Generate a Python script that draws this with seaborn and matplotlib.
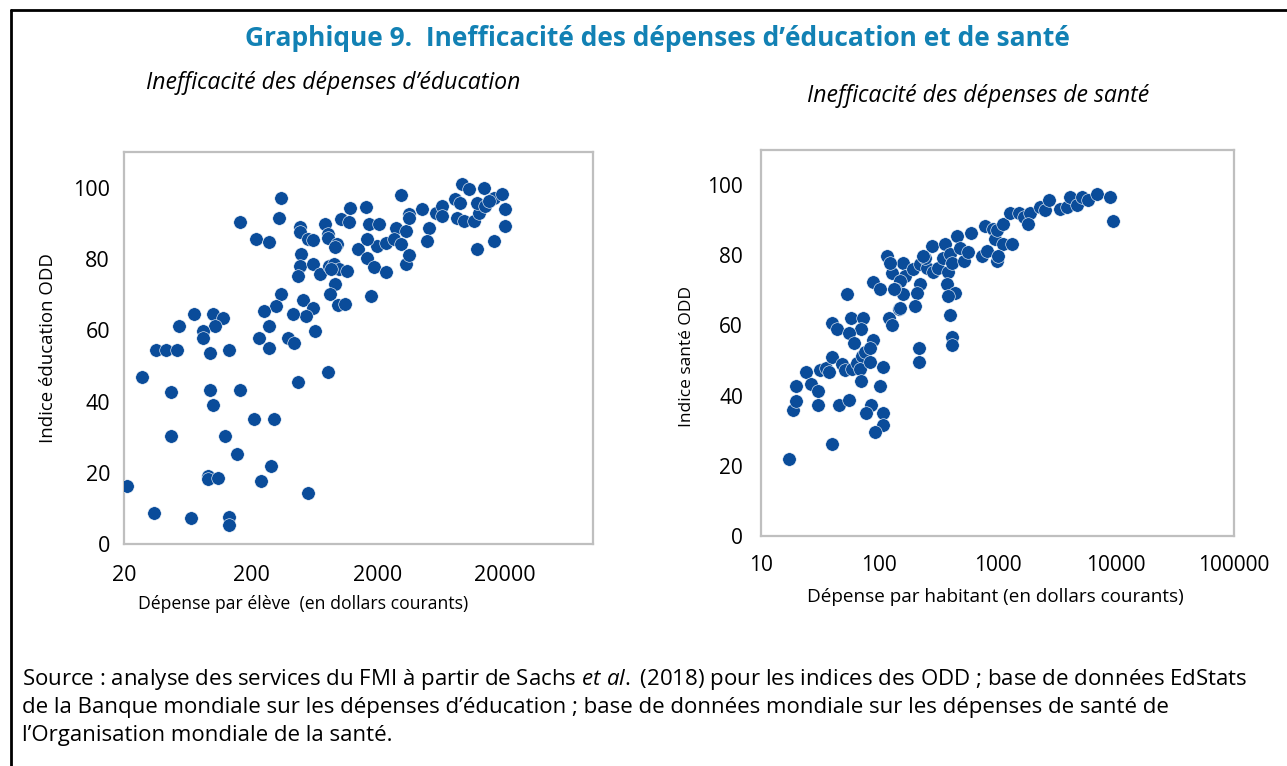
import numpy as np
import pandas as pd
import matplotlib
matplotlib.use("Agg")
import matplotlib.pyplot as plt
import seaborn as sns
from matplotlib.ticker import FixedLocator, FixedFormatter, NullLocator
from matplotlib.lines import Line2D

# ==========================================
# 1. DONNÉES
# ==========================================
edu_depense = [345, 1200, 163, 330, 486, 486, 768, 802, 802, 1031, 1186, 219, 276, 558, 618,
               946, 915, 1403, 496, 489, 611, 472, 698, 826, 904, 988, 1148, 851, 915, 836,
               960, 1096, 345, 315, 252, 517, 618, 542, 431, 276, 233, 276, 394, 434, 641,
               71, 100, 120, 104, 54, 84, 84, 96, 135, 36, 43, 52, 27.7, 47.3, 96,
               100, 163, 472, 802, 210, 302, 47.3, 124, 156, 288, 91, 92, 110, 240, 21.2,
               558, 34.6, 67, 135, 135,
               1620, 1700, 1977, 1634, 1634, 1860, 3300, 2323, 1774,
               3014, 2036, 2755, 3300, 3500, 3500, 2297, 2667, 3014, 3500, 4448, 5024, 4875,
               5672, 6383, 6383, 8128, 8375, 9170, 10350, 13560, 9460, 11320, 12390, 12030,
               13990, 16260, 18880, 20090, 20090, 16260, 12030, 8910, 14850]
edu_indice = [97.2, 94.4, 90.3, 91.6, 89.0, 87.5, 89.7, 86.9, 85.9, 91.1, 90.3, 85.5, 84.8, 85.5, 85.3,
              84.1, 83.3, 82.7, 81.3, 78.0, 78.5, 75.2, 75.9, 78.0, 78.5, 77.1, 76.6, 77.1, 73.1, 70.3,
              67.0, 67.5, 70.3, 66.8, 65.5, 68.4, 66.3, 64.1, 64.7, 61.3, 57.9, 55.1, 58.0, 56.5, 59.9,
              64.7, 64.7, 63.4, 61.3, 61.3, 59.9, 57.9, 53.8, 54.4, 54.4, 54.4, 54.4, 46.9, 42.7, 43.4,
              39.2, 43.4, 45.5, 48.2, 35.1, 35.1, 30.3, 30.3, 25.4, 22.1, 19.2, 18.3, 18.6, 17.8, 16.5,
              14.5, 8.9, 7.5, 7.6, 5.5,
              94.5, 89.7, 83.6, 85.5, 80.3, 77.8, 78.5, 76.4, 69.6,
              97.9, 89.7, 88.8, 87.8, 92.5, 91.6, 84.5, 85.5, 84.1, 81.0, 93.9, 88.8, 85.0,
              93.0, 94.8, 92.0, 96.7, 91.6, 100.9, 99.5, 100.0, 90.6, 90.6, 93.0, 95.8,
              94.8, 97.2, 98.1, 93.9, 89.2, 85.0, 82.7, 95.8, 96.2]

sante_depense = [17.3, 39.6, 18.8, 19.8, 19.8, 23.9, 26.3, 30.2, 30.2, 31.6, 35.5, 37.8, 39.6, 39.6, 43.6,
                 45.9, 55.5, 48.2, 51.4, 58.5, 64.5, 71.1, 75.9, 68.8, 83.6, 53.1, 57.7, 73.4, 69.7, 55.5,
                 61.2, 88.1, 83.6, 69.7, 107, 101.6, 84.7, 76.9, 107, 107, 92.7, 88.1, 101.6,
                 217, 217, 410, 410, 121.7, 129, 148,
                 115.7, 127, 160, 165, 150, 136, 194, 222, 253, 278, 244, 286, 314, 345, 360,
                 397, 385, 410, 452, 484, 516, 568, 592, 735, 809, 983, 785, 921, 950, 372,
                 438, 385, 222, 207, 160, 132, 201, 150, 397, 123, 236,
                 986, 1122, 1279, 1506, 1660, 1888, 1828, 2291, 2535, 2710, 3388, 3864, 4111, 4688,
                 5164, 5875, 6918, 8974, 9572, 1122, 1321, 1018]
sante_indice = [22.0, 26.2, 35.8, 38.6, 42.7, 46.8, 43.4, 41.4, 37.2, 47.4, 47.9, 46.8, 50.9, 60.6, 59.1,
                37.2, 38.7, 48.9, 47.4, 47.6, 49.3, 51.2, 52.4, 47.6, 49.5, 68.9, 62.0, 62.2, 59.1, 57.9,
                55.1, 55.8, 53.6, 44.1, 48.2, 42.7, 37.2, 35.1, 35.1, 31.7, 29.6, 72.4, 70.3,
                53.6, 49.5, 56.8, 54.4, 62.0, 60.0, 64.8,
                79.8, 75.0, 77.9, 74.1, 72.7, 70.3, 76.0, 77.4, 76.5, 82.7, 79.3, 75.1, 76.5, 79.3, 83.1,
                80.3, 75.1, 77.9, 85.5, 82.2, 78.4, 80.8, 86.2, 79.8, 81.2, 78.4, 88.4, 87.4, 84.6, 71.7,
                69.3, 68.4, 71.7, 69.3, 68.9, 70.3, 65.5, 65.1, 63.1, 77.9, 79.8,
                87.1, 89.0, 91.9, 91.9, 91.0, 91.9, 89.0, 93.8, 92.9, 95.8, 93.3, 93.8, 96.7, 94.3,
                96.7, 95.7, 97.4, 96.7, 89.8, 83.1, 83.1, 79.8]

edu_ticks = [20, 200, 2000, 20000]
sante_ticks = [10, 100, 1000, 10000, 100000]
y_ticks = [0, 20, 40, 60, 80, 100]

# ==========================================
# 2. STYLE
# ==========================================
sns.set_theme(style="white")
plt.rcParams['font.family'] = ['Open Sans', 'DejaVu Sans']
plt.rcParams['mathtext.fontset'] = 'custom'
plt.rcParams['mathtext.rm'] = 'Open Sans'
plt.rcParams['mathtext.it'] = 'Open Sans:italic'
plt.rcParams['text.color'] = 'black'
plt.rcParams['axes.labelcolor'] = 'black'

bleu_points = '#0A4C9A'
gris_axe = '#BFBFBF'

fig = plt.figure(figsize=(12.87, 7.66), dpi=100)
ax1 = fig.add_axes([0.0963, 0.2892, 0.3645, 0.5124])
ax2 = fig.add_axes([0.5913, 0.3003, 0.3675, 0.5039])


def habiller(ax, ticks, xlim, xpad, ypad, taille):
    ax.set_xscale('log')
    ax.set_xlim(*xlim)
    ax.set_ylim(0, 110)
    ax.xaxis.set_major_locator(FixedLocator(ticks))
    ax.xaxis.set_major_formatter(FixedFormatter([str(t) for t in ticks]))
    ax.xaxis.set_minor_locator(NullLocator())
    ax.set_yticks(y_ticks)
    for s in ax.spines.values():
        s.set_visible(True)
        s.set_color(gris_axe)
        s.set_linewidth(1.6)
    ax.tick_params(direction='in', length=5, width=1.4, color=gris_axe,
                   labelsize=taille, labelcolor='black')
    ax.tick_params(axis='x', pad=xpad)
    ax.tick_params(axis='y', pad=ypad)


# ==========================================
# 3. NUAGES DE POINTS
# ==========================================
sns.scatterplot(x=edu_depense, y=edu_indice, ax=ax1, color=bleu_points, s=95,
                edgecolor='white', linewidth=0.4, zorder=3)
sns.scatterplot(x=sante_depense, y=sante_indice, ax=ax2, color=bleu_points, s=95,
                edgecolor='white', linewidth=0.4, zorder=3)

habiller(ax1, edu_ticks, (20, 98600), 15, 10, 15.5)
habiller(ax2, sante_ticks, (10, 100000), 14, 13, 15)

ax1.set_xlabel("Dépense par élève  (en dollars courants)", fontsize=12.7)
ax1.set_ylabel("Indice éducation ODD", fontsize=13.4)
ax1.xaxis.set_label_coords(0.382, -0.128)
ax1.yaxis.set_label_coords(-0.143, 0.5)

ax2.set_xlabel("Dépense par habitant (en dollars courants)", fontsize=13.6)
ax2.set_ylabel("Indice santé ODD", fontsize=12.5)
ax2.xaxis.set_label_coords(0.495, -0.135)
ax2.yaxis.set_label_coords(-0.139, 0.466)

# ==========================================
# 4. TITRES, SOURCE, CADRE
# ==========================================
fig.text(657 / 1287, 1 - 39 / 766, "Graphique 9.  Inefficacité des dépenses d’éducation et de santé",
         ha='center', va='center', fontsize=19, fontweight='bold', color='#1281B4')
fig.text(333 / 1287, 1 - 83 / 766, "Inefficacité des dépenses d’éducation",
         ha='center', va='center', fontsize=16.6, style='italic')
fig.text(978 / 1287, 1 - 96 / 766, "Inefficacité des dépenses de santé",
         ha='center', va='center', fontsize=16.6, style='italic')

source = [
    r"Source : analyse des services du FMI à partir de Sachs $\mathit{et\ al.}$ (2018) pour les indices des ODD ; base de données EdStats",
    "de la Banque mondiale sur les dépenses d’éducation ; base de données mondiale sur les dépenses de santé de",
    "l’Organisation mondiale de la santé.",
]
for i, ligne in enumerate(source):
    fig.text(22 / 1287, 1 - (680 + 28 * i) / 766, ligne, ha='left', va='center', fontsize=16)

x0 = 11 / 1287
y0 = 1 - 10 / 766
fig.add_artist(Line2D([x0, x0], [0, y0], color='black', lw=2, transform=fig.transFigure))
fig.add_artist(Line2D([x0, 1], [y0, y0], color='black', lw=2, transform=fig.transFigure))

plt.savefig('out.png', dpi=100)
